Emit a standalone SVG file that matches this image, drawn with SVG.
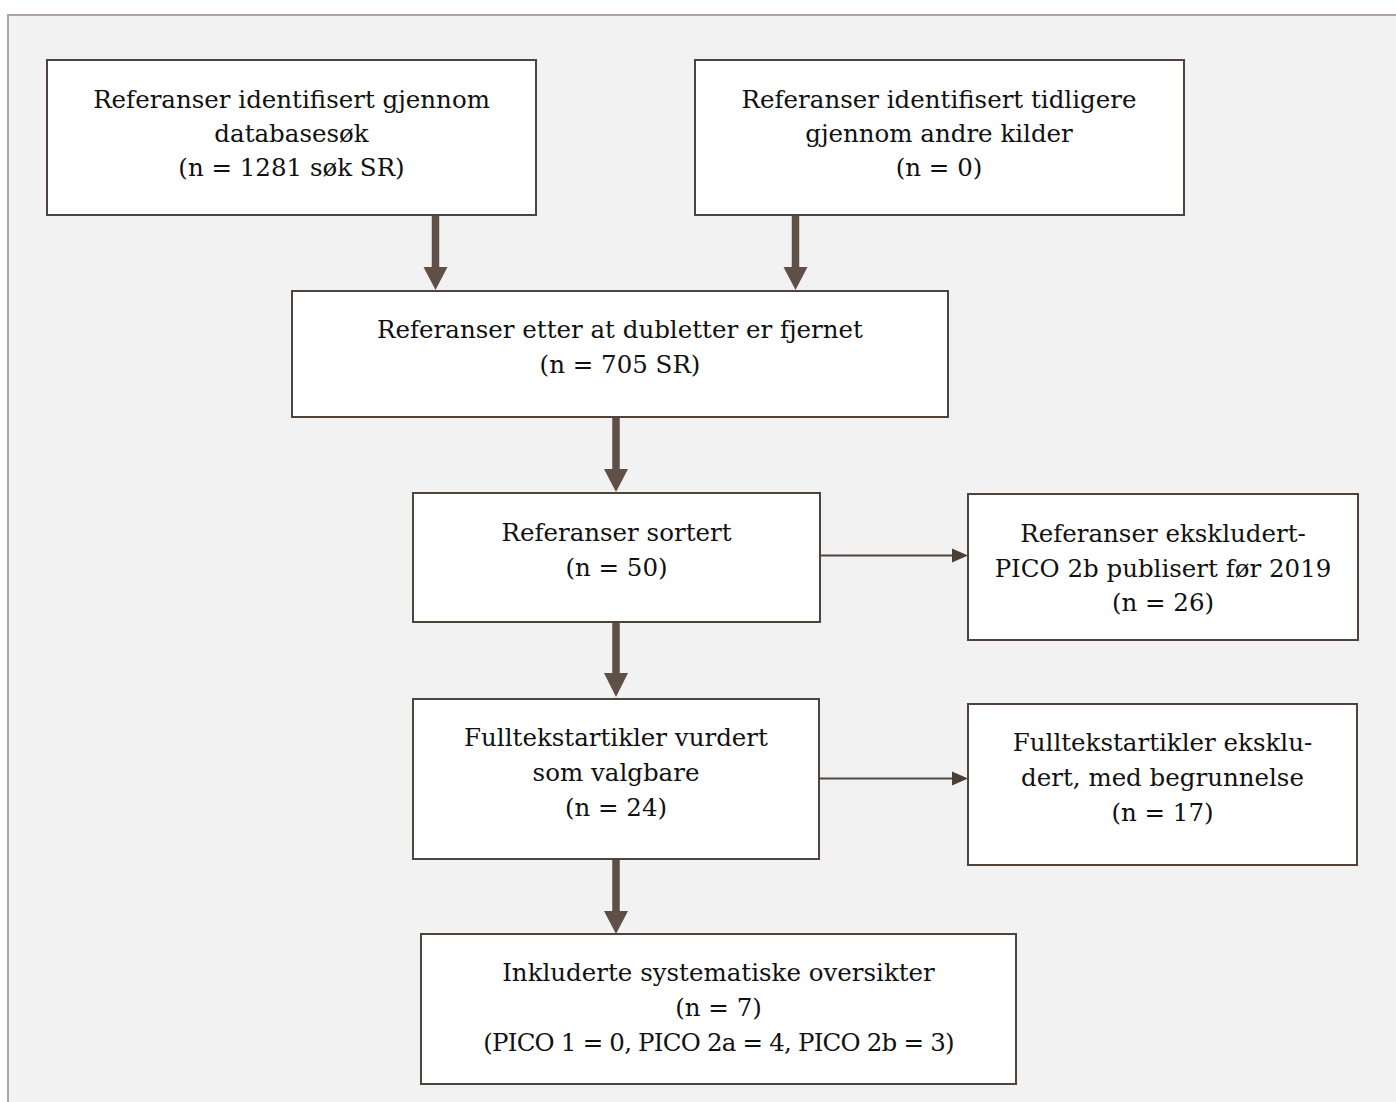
<svg xmlns="http://www.w3.org/2000/svg" width="1396" height="1102" viewBox="0 0 1396 1102">
<style>
.bg{fill:#f2f2f2;stroke:#b3a59b;stroke-width:2}
.box{fill:#ffffff;stroke:#4f433c;stroke-width:2}
.t{font-family:"DejaVu Serif","Liberation Serif",serif;font-size:24.5px;fill:#111;text-anchor:middle}
.thick{stroke:#5f5047;stroke-width:7.5;fill:none}
.thin{stroke:#52463f;stroke-width:2;fill:none}
.bh{fill:#5f5047}
.sh{fill:#4a3f38}
</style>
<rect class="bg" x="8" y="15" width="1400" height="1100"/>
<g id="connectors">
<path d="M435.5,216 L435.5,268" class="thick"/>
<path class="bh" d="M423.5,267 L447.5,267 L435.5,290 Z"/>
<path d="M795.5,216 L795.5,268" class="thick"/>
<path class="bh" d="M783.5,267 L807.5,267 L795.5,290 Z"/>
<path d="M616,417 L616,470" class="thick"/>
<path class="bh" d="M604,469 L628,469 L616,492 Z"/>
<path d="M616,622 L616,674" class="thick"/>
<path class="bh" d="M604,673 L628,673 L616,697 Z"/>
<path d="M616,859 L616,912" class="thick"/>
<path class="bh" d="M604,911 L628,911 L616,934 Z"/>
<path d="M820,555.5 L954,555.5" class="thin"/>
<path class="sh" d="M952,548.5 L968,555.5 L952,562.5 Z"/>
<path d="M820,778.5 L954,778.5" class="thin"/>
<path class="sh" d="M952,771.5 L968,778.5 L952,785.5 Z"/>
</g>
<g id="node-a">
<rect class="box" x="47" y="60" width="489" height="155"/>
<text class="t" x="291.5" y="108">Referanser identifisert gjennom</text>
<text class="t" x="291.5" y="142">databasesøk</text>
<text class="t" x="291.5" y="176">(n = 1281 søk SR)</text>
</g>
<g id="node-b">
<rect class="box" x="695" y="60" width="489" height="155"/>
<text class="t" x="939" y="108">Referanser identifisert tidligere</text>
<text class="t" x="939" y="142">gjennom andre kilder</text>
<text class="t" x="939" y="176">(n = 0)</text>
</g>
<g id="node-c">
<rect class="box" x="292" y="291" width="656" height="126"/>
<text class="t" x="620" y="338">Referanser etter at dubletter er fjernet</text>
<text class="t" x="620" y="373">(n = 705 SR)</text>
</g>
<g id="node-d">
<rect class="box" x="413" y="493" width="407" height="129"/>
<text class="t" x="616.5" y="541">Referanser sortert</text>
<text class="t" x="616.5" y="576">(n = 50)</text>
</g>
<g id="node-e">
<rect class="box" x="968" y="494" width="390" height="146"/>
<text class="t" x="1163" y="542">Referanser ekskludert-</text>
<text class="t" x="1163" y="577">PICO 2b publisert før 2019</text>
<text class="t" x="1163" y="611">(n = 26)</text>
</g>
<g id="node-f">
<rect class="box" x="413" y="699" width="406" height="160"/>
<text class="t" x="616" y="746">Fulltekstartikler vurdert</text>
<text class="t" x="616" y="781">som valgbare</text>
<text class="t" x="616" y="816">(n = 24)</text>
</g>
<g id="node-g">
<rect class="box" x="968" y="704" width="389" height="161"/>
<text class="t" x="1162.5" y="751">Fulltekstartikler eksklu-</text>
<text class="t" x="1162.5" y="786">dert, med begrunnelse</text>
<text class="t" x="1162.5" y="821">(n = 17)</text>
</g>
<g id="node-h">
<rect class="box" x="421" y="934" width="595" height="150"/>
<text class="t" x="718.5" y="981">Inkluderte systematiske oversikter</text>
<text class="t" x="718.5" y="1016">(n = 7)</text>
<text class="t" x="718.5" y="1051" letter-spacing="-0.8">(PICO 1 = 0, PICO 2a = 4, PICO 2b = 3)</text>
</g>
</svg>
